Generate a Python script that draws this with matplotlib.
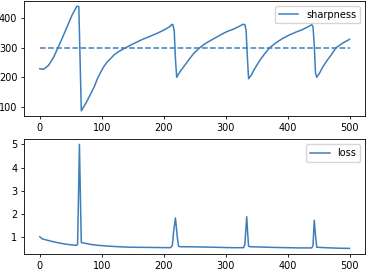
import matplotlib
matplotlib.use("Agg")
import matplotlib.pyplot as plt

# sharpness: (step, value)
sharp_x = [0, 6, 14, 22, 28, 36, 44, 52, 60, 63, 67, 71, 76, 82, 88, 93, 98, 103, 108, 114, 120, 125, 133, 141,
           149, 157, 165, 173, 181, 189, 197, 205, 211, 213, 215, 217, 219, 221, 226, 232, 240, 248, 258, 266,
           274, 285, 296, 304, 312, 320, 328, 331, 333, 335, 337, 338, 341, 346, 355, 363, 371, 381, 392, 403,
           414, 424, 435, 439, 441, 443, 445, 447, 451, 456, 462, 470, 478, 488, 500]
sharp_y = [229, 227, 240, 267, 294, 332, 371, 411, 442, 440, 86, 100, 118, 143, 168, 195, 216, 235, 250, 263,
           276, 284, 294, 303, 312, 320, 328, 335, 342, 349, 357, 366, 374, 380, 378, 358, 260, 200, 218, 235,
           258, 280, 300, 313, 323, 336, 349, 357, 363, 371, 380, 379, 360, 270, 195, 198, 206, 226, 257, 280,
           300, 317, 332, 344, 354, 362, 374, 379, 372, 310, 215, 200, 212, 232, 252, 275, 300, 315, 329]
threshold = 300

# loss: (step, value)
loss_x = [0, 4, 15, 28, 42, 55, 59, 61, 62.5, 64, 65.5, 67, 75, 82, 95, 109, 128, 146, 180, 211, 214, 216,
          219, 222, 224, 227, 242, 280, 310, 329, 331, 332.5, 334, 335.5, 337, 340, 380, 420, 439, 441, 443,
          445, 447, 460, 480, 500]
loss_y = [1.03, 0.94, 0.86, 0.78, 0.71, 0.67, 0.66, 0.70, 2.8, 5.0, 2.8, 0.78, 0.74, 0.70, 0.66, 0.63, 0.60,
          0.58, 0.57, 0.56, 0.66, 1.25, 1.84, 1.0, 0.62, 0.60, 0.60, 0.58, 0.56, 0.56, 0.70, 1.3, 1.89, 1.2,
          0.62, 0.60, 0.57, 0.55, 0.55, 0.65, 1.74, 1.1, 0.58, 0.56, 0.54, 0.53]

color = '#3d7fbd'
plt.rcParams['font.size'] = 7.0

fig = plt.figure(figsize=(3.66, 2.69), dpi=100)
ax1 = fig.add_axes([0.0664, 0.5688, 0.931, 0.428])
ax2 = fig.add_axes([0.0664, 0.0573, 0.931, 0.4253])

ax1.plot(sharp_x, sharp_y, color=color, lw=1.1, label='sharpness')
ax1.plot([sharp_x[0], sharp_x[-1]], [threshold, threshold], color=color, lw=1.1, ls='--')
ax1.legend(loc='upper right')

ax2.plot(loss_x, loss_y, color=color, lw=1.1, label='loss')
ax2.legend(loc='upper right')

for ax in (ax1, ax2):
    ax.set_xticks([0, 100, 200, 300, 400, 500])
    ax.tick_params(length=2.5, width=0.6, pad=2.5)
    for s in ax.spines.values():
        s.set_linewidth(0.6)

fig.savefig('out.png', dpi=100)
